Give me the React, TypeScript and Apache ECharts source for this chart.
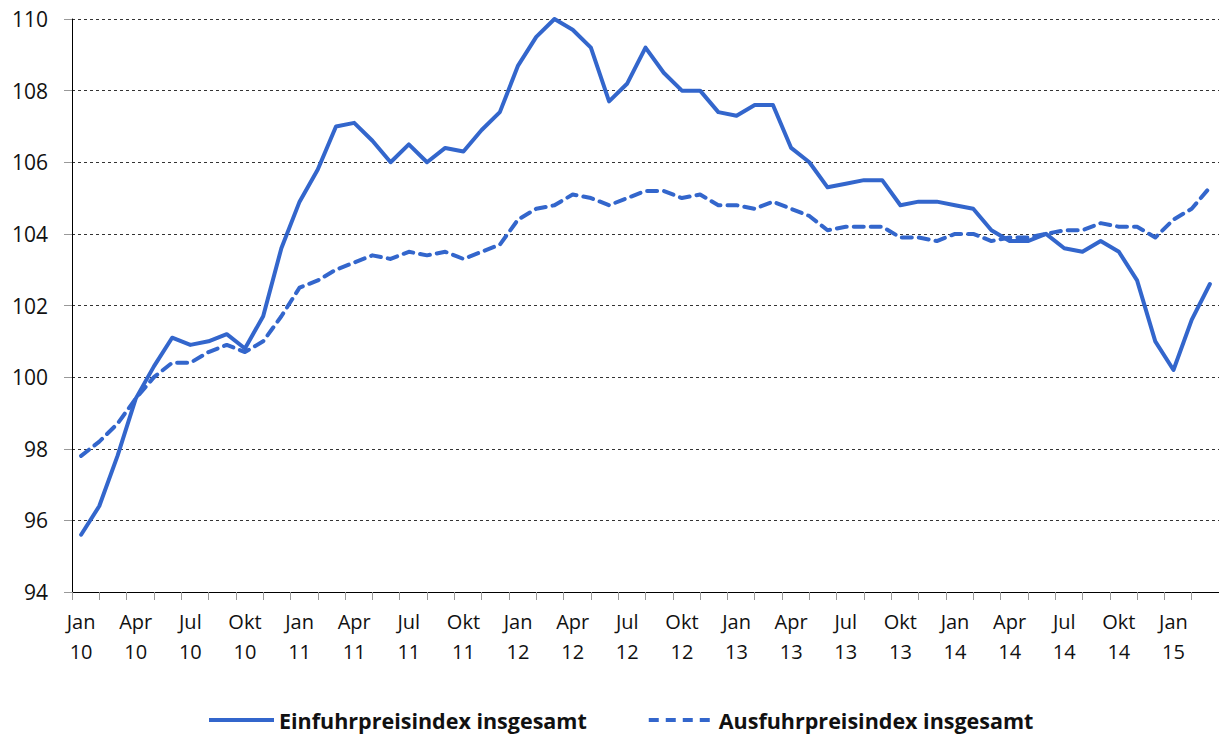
import React, { useEffect, useRef } from "react";
import * as echarts from "echarts";

const monthNames = ["Jan", "Feb", "Mär", "Apr", "Mai", "Jun", "Jul", "Aug", "Sep", "Okt", "Nov", "Dez"];
const years = ["10", "11", "12", "13", "14", "15"];
const categories: string[] = [];
years.forEach((y) => {
  monthNames.forEach((m) => {
    if (categories.length < 63) categories.push(m + "\n" + y);
  });
});
// minor tick bands (one every 1.5 months, as in the original)
const tickBands: string[] = [];
for (let i = 0; i < 42; i++) tickBands.push("t" + i);

const einfuhr = [
  95.6, 96.4, 97.8, 99.4, 100.3, 101.1, 100.9, 101.0, 101.2, 100.8, 101.7, 103.6,
  104.9, 105.8, 107.0, 107.1, 106.6, 106.0, 106.5, 106.0, 106.4, 106.3, 106.9, 107.4,
  108.7, 109.5, 110.0, 109.7, 109.2, 107.7, 108.2, 109.2, 108.5, 108.0, 108.0, 107.4,
  107.3, 107.6, 107.6, 106.4, 106.0, 105.3, 105.4, 105.5, 105.5, 104.8, 104.9, 104.9,
  104.8, 104.7, 104.1, 103.8, 103.8, 104.0, 103.6, 103.5, 103.8, 103.5, 102.7, 101.0,
  100.2, 101.6, 102.6,
];

const ausfuhr = [
  97.8, 98.2, 98.7, 99.4, 100.0, 100.4, 100.4, 100.7, 100.9, 100.7, 101.0, 101.7,
  102.5, 102.7, 103.0, 103.2, 103.4, 103.3, 103.5, 103.4, 103.5, 103.3, 103.5, 103.7,
  104.4, 104.7, 104.8, 105.1, 105.0, 104.8, 105.0, 105.2, 105.2, 105.0, 105.1, 104.8,
  104.8, 104.7, 104.9, 104.7, 104.5, 104.1, 104.2, 104.2, 104.2, 103.9, 103.9, 103.8,
  104.0, 104.0, 103.8, 103.9, 103.9, 104.0, 104.1, 104.1, 104.3, 104.2, 104.2, 103.9,
  104.4, 104.7, 105.3,
];

const seriesNames = ["Einfuhrpreisindex insgesamt", "Ausfuhrpreisindex insgesamt"];
const lineColor = "#3366CC";
const fontFamily = "'Open Sans', sans-serif";

export default function App() {
  const ref = useRef<HTMLDivElement>(null);
  useEffect(() => {
    if (!ref.current) return;
    const chart = echarts.init(ref.current, null, { renderer: "svg" });
    chart.setOption({
      animation: false,
      backgroundColor: "#ffffff",
      grid: { left: 72, right: -2, top: 19, bottom: 143, containLabel: false },
      legend: {
        left: 202,
        top: 704,
        itemWidth: 65,
        itemHeight: 14,
        itemGap: 60,
        itemStyle: { opacity: 0 },
        lineStyle: { width: 4, cap: "butt" },
        textStyle: { fontFamily, fontSize: 21.5, fontWeight: "bold", color: "#111" },
        data: seriesNames,
      },
      xAxis: [
        {
          type: "category",
          data: categories,
          boundaryGap: true,
          axisLine: { show: true, lineStyle: { color: "#000", width: 1 } },
          axisTick: { show: false },
          axisLabel: {
            interval: 2,
            fontFamily,
            fontSize: 20,
            color: "#111",
            lineHeight: 30,
            margin: 14,
          },
          splitLine: { show: false },
        },
        {
          type: "category",
          data: tickBands,
          boundaryGap: true,
          position: "bottom",
          axisLine: { show: true, onZero: false, lineStyle: { color: "#000", width: 1 } },
          axisTick: { show: true, interval: 0, length: 8, lineStyle: { color: "#999999", width: 1 } },
          axisLabel: { show: false },
          splitLine: { show: false },
        },
      ],
      yAxis: {
        type: "value",
        min: 94,
        max: 110,
        interval: 2,
        axisLine: { show: true, lineStyle: { color: "#000", width: 1 } },
        axisTick: { show: true, length: 8, lineStyle: { color: "#999999", width: 1 } },
        axisLabel: { fontFamily, fontSize: 21, color: "#111", margin: 24 },
        splitLine: { show: true, lineStyle: { color: "#333", width: 1, type: [3, 3] } },
      },
      series: [
        {
          name: seriesNames[0],
          type: "line",
          data: einfuhr,
          xAxisIndex: 0,
          symbol: "none",
          lineStyle: { color: lineColor, width: 4, cap: "round", join: "round" },
          itemStyle: { color: lineColor },
        },
        {
          name: seriesNames[1],
          type: "line",
          data: ausfuhr,
          xAxisIndex: 0,
          symbol: "none",
          lineStyle: { color: lineColor, width: 4, type: [10, 7], cap: "round", join: "round" },
          itemStyle: { color: lineColor },
        },
      ],
    });
    return () => chart.dispose();
  }, []);
  return (
    <div
      ref={ref}
      style={{ position: "fixed", left: 0, top: 0, width: 1219, height: 735, background: "#fff" }}
    />
  );
}
